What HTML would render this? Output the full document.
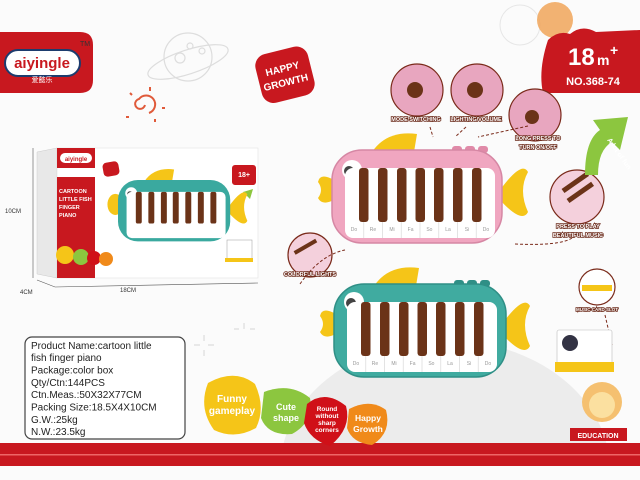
<!DOCTYPE html>
<html><head><meta charset="utf-8"><style>
html,body{margin:0;padding:0;background:#fbfbfb;width:640px;height:480px;overflow:hidden;}
svg{display:block}
text{font-family:"Liberation Sans","Noto Sans CJK SC",sans-serif}
</style></head><body>
<svg width="640" height="480" viewBox="0 0 640 480" xmlns="http://www.w3.org/2000/svg">
<rect width="640" height="480" fill="#fbfbfb"/>
<!-- gray hill -->
<ellipse cx="445" cy="470" rx="165" ry="130" fill="#ececec"/>
<!-- red band -->
<rect x="0" y="443" width="640" height="23" fill="#c8181f"/>
<rect x="0" y="454" width="640" height="1.5" fill="#e66"/>
<rect x="0" y="466" width="640" height="14" fill="#fbfbfb"/>

<!-- logo -->
<path d="M0 32 H80 Q93 32 93 45 V80 Q93 93 80 93 H0 Z" fill="#c8181f"/>
<rect x="5" y="50" width="75" height="26" rx="13" fill="#fff" stroke="#1d3c6e" stroke-width="2"/>
<text x="42" y="68" font-size="15" font-weight="bold" fill="#c8181f" text-anchor="middle">aiyingle</text>
<text x="42" y="82" font-size="7" fill="#fff" text-anchor="middle">爱懿乐</text>
<text x="80" y="46" font-size="7" fill="#333">TM</text>

<!-- planet -->
<g fill="none" stroke="#ddd" stroke-width="1.2">
<circle cx="188" cy="57" r="24"/>
<ellipse cx="188" cy="62" rx="42" ry="12" transform="rotate(-18 188 62)"/>
<circle cx="180" cy="58" r="5"/><circle cx="202" cy="51" r="3"/><circle cx="190" cy="46" r="3"/>
</g>
<!-- swirl sun -->
<g stroke="#e05a3a" stroke-width="2" fill="none">
<path d="M145 105 a5 5 0 1 1 -6 -6 a9 9 0 1 1 10 14"/>
<path d="M150 87v4M162 108h3M126 117h3M155 119v3M130 93l2 2"/>
</g>

<!-- happy growth badge -->
<g transform="rotate(-14 284 75)">
<rect x="258" y="50" width="54" height="50" rx="12" fill="#c8181f"/>
<text x="284" y="72" font-size="10" font-weight="bold" fill="#fff" text-anchor="middle">HAPPY</text>
<text x="284" y="86" font-size="10" font-weight="bold" fill="#fff" text-anchor="middle">GROWTH</text>
</g>

<!-- 18m+ badge -->
<circle cx="520" cy="25" r="20" fill="none" stroke="#e6e6e6"/>
<circle cx="555" cy="20" r="18" fill="#f0a050" opacity=".8"/>
<path d="M548 40 Q558 30 570 34 Q582 24 596 32 L640 30 V93 H543 Q538 70 548 40 Z" fill="#c8181f"/>
<text x="568" y="65" font-size="24" font-weight="bold" fill="#fff">18</text>
<text x="597" y="65" font-size="14" font-weight="bold" fill="#fff">m</text>
<text x="610" y="55" font-size="14" font-weight="bold" fill="#fff">+</text>
<text x="593" y="85" font-size="11" font-weight="bold" fill="#fff" text-anchor="middle">NO.368-74</text>

<!-- box -->
<path d="M37 152 L57 148 V278 L37 274 Z" fill="#e8e8e8" stroke="#ccc" stroke-width=".5"/>
<rect x="57" y="148" width="201" height="130" fill="#fff" stroke="#ddd" stroke-width=".5"/>
<rect x="57" y="148" width="38" height="20" fill="#c8181f"/>
<rect x="60" y="153" width="32" height="10" rx="5" fill="#fff"/>
<text x="76" y="161" font-size="6" font-weight="bold" fill="#c8181f" text-anchor="middle">aiyingle</text>
<rect x="57" y="177" width="38" height="101" fill="#c8181f"/>
<text x="59" y="193" font-size="5.5" font-weight="bold" fill="#fff">CARTOON</text>
<text x="59" y="201" font-size="5.5" font-weight="bold" fill="#fff">LITTLE FISH</text>
<text x="59" y="209" font-size="5.5" font-weight="bold" fill="#fff">FINGER</text>
<text x="59" y="217" font-size="5.5" font-weight="bold" fill="#fff">PIANO</text>
<circle cx="65" cy="255" r="9" fill="#f5c518"/><circle cx="81" cy="257" r="8" fill="#8cc63f"/>
<circle cx="94" cy="258" r="7" fill="#d01018"/><circle cx="106" cy="259" r="7" fill="#f08a1a"/>
<rect x="103" y="162" width="16" height="14" rx="4" fill="#c8181f" transform="rotate(-10 111 169)"/>
<rect x="232" y="165" width="24" height="20" rx="3" fill="#c8181f"/>
<text x="244" y="177" font-size="7" font-weight="bold" fill="#fff" text-anchor="middle">18+</text>
<path d="M243 192 l10 -3 l-3 10 z" fill="#8cc63f"/>
<rect x="227" y="240" width="25" height="20" fill="#fff" stroke="#999" stroke-width=".5"/>
<rect x="225" y="258" width="28" height="4" fill="#f5c518"/>
<text x="5" y="213" font-size="6" fill="#333">10CM</text>
<text x="20" y="294" font-size="6" fill="#333">4CM</text>
<text x="120" y="292" font-size="6" fill="#333">18CM</text>
<path d="M33 148 V278 M37 280 L55 287 L258 283" stroke="#555" stroke-width=".6" fill="none"/>

<!-- FISH box (teal small) -->
<g transform="translate(118 180) scale(0.66)">
<path d="M40 2 Q55 -20 85 -16 L82 2 Z" fill="#f5c518"/>
<ellipse cx="-4" cy="37" rx="12" ry="16" fill="#f5c518"/>
<path d="M168 40 Q190 10 196 22 Q186 40 196 62 Q190 74 168 50Z" fill="#f5c518"/>
<rect x="0" y="0" width="170" height="93" rx="30" fill="#3aa99f"/>
<circle cx="20" cy="20" r="9" fill="#fff"/><circle cx="18" cy="21" r="4" fill="#444"/>
<rect x="13" y="18" width="150" height="70" rx="8" fill="#fff"/>
<g fill="#6b3318"><rect x="27" y="18" width="9" height="48" rx="3"/><rect x="46" y="18" width="9" height="48" rx="3"/><rect x="65" y="18" width="9" height="48" rx="3"/><rect x="83" y="18" width="9" height="48" rx="3"/><rect x="102" y="18" width="9" height="48" rx="3"/><rect x="121" y="18" width="9" height="48" rx="3"/><rect x="140" y="18" width="9" height="48" rx="3"/></g>
</g>

<!-- PINK FISH -->
<g transform="translate(332 150)">
<path d="M40 2 Q55 -20 85 -16 L82 2 Z" fill="#f5c518"/>
<rect x="120" y="-4" width="10" height="7" rx="3" fill="#e08aa8"/><rect x="133" y="-4" width="10" height="7" rx="3" fill="#e08aa8"/><rect x="146" y="-4" width="10" height="7" rx="3" fill="#e08aa8"/>
<path d="M2 30 Q-12 22 -14 32 Q-8 40 -14 48 Q-10 56 2 50 Z" fill="#f5c518"/>
<path d="M168 40 Q190 10 196 22 Q186 40 196 62 Q190 74 168 50Z" fill="#f5c518"/>
<rect x="0" y="0" width="170" height="93" rx="30" fill="#f0a6c0" stroke="#d687a4" stroke-width="1.5"/>
<circle cx="20" cy="20" r="10" fill="#fff"/><circle cx="17" cy="21" r="5" fill="#444"/>
<rect x="13" y="18" width="150" height="70" rx="8" fill="#fff"/>
<g stroke="#ddd" stroke-width=".8"><path d="M31.75 18V88M50.5 18V88M69.25 18V88M88 18V88M106.75 18V88M125.5 18V88M144.25 18V88"/></g>
<g fill="#6b3318"><rect x="27" y="18" width="9.5" height="54" rx="3"/><rect x="46" y="18" width="9.5" height="54" rx="3"/><rect x="65" y="18" width="9.5" height="54" rx="3"/><rect x="83.5" y="18" width="9.5" height="54" rx="3"/><rect x="102" y="18" width="9.5" height="54" rx="3"/><rect x="121" y="18" width="9.5" height="54" rx="3"/><rect x="140" y="18" width="9.5" height="54" rx="3"/></g>
<g font-size="5" fill="#999" text-anchor="middle"><text x="22" y="81">Do</text><text x="41" y="81">Re</text><text x="60" y="81">Mi</text><text x="78.6" y="81">Fa</text><text x="97.4" y="81">So</text><text x="116" y="81">La</text><text x="135" y="81">Si</text><text x="154" y="81">Do</text></g>
</g>

<!-- TEAL FISH -->
<g transform="translate(334 284)">
<path d="M40 2 Q55 -20 85 -16 L82 2 Z" fill="#f5c518"/>
<rect x="120" y="-4" width="10" height="7" rx="3" fill="#2f8f86"/><rect x="133" y="-4" width="10" height="7" rx="3" fill="#2f8f86"/><rect x="146" y="-4" width="10" height="7" rx="3" fill="#2f8f86"/>
<path d="M2 30 Q-12 22 -14 32 Q-8 40 -14 48 Q-10 56 2 50 Z" fill="#f5c518"/>
<path d="M168 40 Q190 10 196 22 Q186 40 196 62 Q190 74 168 50Z" fill="#f5c518"/>
<rect x="0" y="0" width="172" height="93" rx="30" fill="#40aba0" stroke="#2f8f86" stroke-width="1.5"/>
<circle cx="20" cy="18" r="10" fill="#fff"/><circle cx="17" cy="19" r="5" fill="#444"/>
<rect x="13" y="18" width="150" height="70" rx="8" fill="#fff"/>
<g stroke="#ddd" stroke-width=".8"><path d="M31.75 18V88M50.5 18V88M69.25 18V88M88 18V88M106.75 18V88M125.5 18V88M144.25 18V88"/></g>
<g fill="#6b3318"><rect x="27" y="18" width="9.5" height="54" rx="3"/><rect x="46" y="18" width="9.5" height="54" rx="3"/><rect x="65" y="18" width="9.5" height="54" rx="3"/><rect x="83.5" y="18" width="9.5" height="54" rx="3"/><rect x="102" y="18" width="9.5" height="54" rx="3"/><rect x="121" y="18" width="9.5" height="54" rx="3"/><rect x="140" y="18" width="9.5" height="54" rx="3"/></g>
<g font-size="5" fill="#999" text-anchor="middle"><text x="22" y="81">Do</text><text x="41" y="81">Re</text><text x="60" y="81">Mi</text><text x="78.6" y="81">Fa</text><text x="97.4" y="81">So</text><text x="116" y="81">La</text><text x="135" y="81">Si</text><text x="154" y="81">Do</text></g>
</g>

<!-- zoom callouts -->
<g stroke="#7a2a1a" stroke-width="1.2">
<circle cx="417" cy="90" r="26" fill="#e8a6bf"/>
<circle cx="477" cy="90" r="26" fill="#e8a6bf"/>
<circle cx="535" cy="115" r="26" fill="#e8a6bf"/>
<circle cx="577" cy="197" r="27" fill="#f4d0dc"/>
<circle cx="310" cy="255" r="22" fill="#f4d0dc"/>
<circle cx="597" cy="287" r="18" fill="#fff"/>
</g>
<circle cx="415" cy="90" r="8" fill="#6b3318"/><circle cx="475" cy="90" r="8" fill="#6b3318"/><circle cx="532" cy="117" r="7" fill="#6b3318"/>
<rect x="582" y="285" width="30" height="6" fill="#f5c518"/>
<g fill="#6b3318"><rect x="560" y="180" width="30" height="5" transform="rotate(-35 575 182)"/><rect x="565" y="190" width="30" height="5" transform="rotate(-35 580 192)"/><rect x="293" y="245" width="25" height="4" transform="rotate(-30 305 247)"/></g>
<g font-size="5.5" font-weight="bold" fill="#fff" stroke="#6b2a1a" stroke-width="1.6" paint-order="stroke" text-anchor="middle">
<text x="416" y="121">MODE SWITCHING</text>
<text x="476" y="121">LIGHTING/VOLUME</text>
<text x="538" y="140">LONG PRESS TO</text>
<text x="538" y="149">TURN ON/OFF</text>
<text x="578" y="228">PRESS TO PLAY</text>
<text x="578" y="237">BEAUTIFUL MUSIC</text>
<text x="310" y="276">COLORFUL LIGHTS</text>
<text x="597" y="311" font-size="4.5">MUSIC CARD SLOT</text>
</g>
<g stroke="#7a2a1a" stroke-width="1" stroke-dasharray="3 2" fill="none">
<path d="M430 127 L433 137M466 127 L455 137M528 126 L478 137M572 238 Q560 246 515 244M300 284 Q320 255 345 250M605 315 L612 345"/>
</g>

<!-- green arrow -->
<path d="M585 175 Q585 140 600 130 L593 120 L628 117 L620 150 L612 142 Q598 150 598 175 Z" fill="#8cc63f"/>
<text x="607" y="140" font-size="7" font-weight="bold" fill="#fff" transform="rotate(55 607 140)">A lot of fun</text>

<!-- music card -->
<rect x="557" y="330" width="55" height="34" rx="2" fill="#fff" stroke="#bbb" stroke-width=".6"/>
<circle cx="570" cy="343" r="8" fill="#334"/>
<path d="M555 362 H614 V372 H555 Z" fill="#f5c518"/>
<!-- lion -->
<circle cx="602" cy="402" r="20" fill="#f5c070"/>
<circle cx="602" cy="405" r="13" fill="#fbe0a0"/>
<rect x="570" y="428" width="57" height="13" fill="#c8181f"/>
<text x="598" y="438" font-size="7" font-weight="bold" fill="#fff" text-anchor="middle">EDUCATION</text>

<!-- info box -->
<rect x="25" y="337" width="160" height="102" rx="7" fill="#fff" stroke="#444" stroke-width="1.2"/>
<g font-size="10" fill="#222">
<text x="31" y="349">Product Name:cartoon little</text>
<text x="31" y="361">fish finger piano</text>
<text x="31" y="373.5">Package:color box</text>
<text x="31" y="386">Qty/Ctn:144PCS</text>
<text x="31" y="398">Ctn.Meas.:50X32X77CM</text>
<text x="31" y="410.5">Packing Size:18.5X4X10CM</text>
<text x="31" y="423">G.W.:25kg</text>
<text x="31" y="435">N.W.:23.5kg</text>
</g>
<!-- sparkles -->
<g stroke="#ddd" stroke-width="1.2"><path d="M204 335v6M204 350v6M194 345h6M208 345h6M244 323v6M234 329h5M250 329h5"/></g>

<!-- bubbles -->
<path d="M208 383 Q235 368 255 384 Q266 408 256 428 Q235 440 214 430 Q198 408 208 383Z" fill="#f5c518"/>
<path d="M264 392 Q290 382 310 398 Q314 422 292 434 Q268 436 261 418Z" fill="#8cc63f"/>
<path d="M307 404 Q325 389 346 406 Q352 428 330 446 Q310 440 304 423Z" fill="#d01018"/>
<path d="M349 409 Q370 398 386 410 Q392 433 372 445 Q352 443 347 428Z" fill="#f08a1a"/>
<g font-weight="bold" fill="#fff" text-anchor="middle">
<text x="232" y="402" font-size="10">Funny</text><text x="232" y="414" font-size="10">gameplay</text>
<text x="286" y="410" font-size="9">Cute</text><text x="286" y="421" font-size="9">shape</text>
<text x="327" y="411" font-size="6.5">Round</text><text x="327" y="418" font-size="6.5">without</text><text x="327" y="425" font-size="6.5">sharp</text><text x="327" y="432" font-size="6.5">corners</text>
<text x="368" y="421" font-size="8.5">Happy</text><text x="368" y="432" font-size="8.5">Growth</text>
</g>
</svg>
</body></html>
